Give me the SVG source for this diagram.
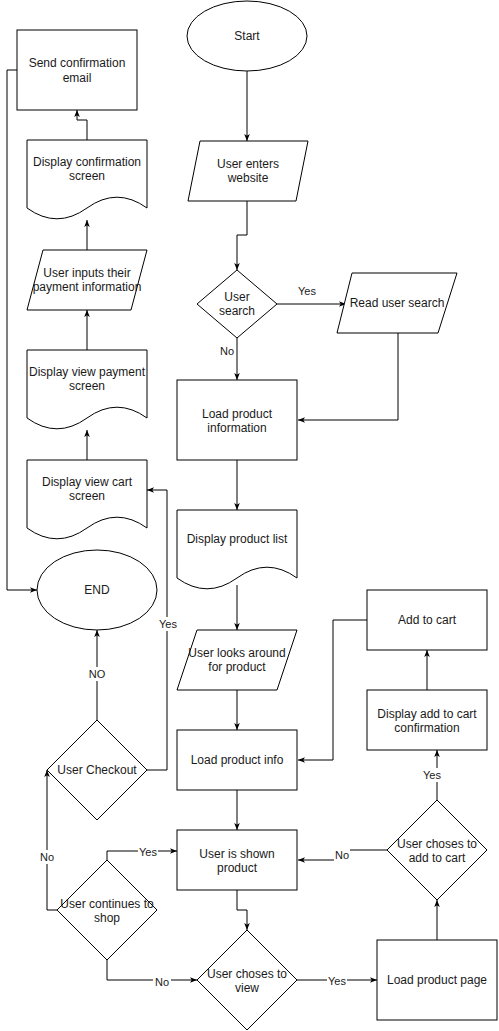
<svg xmlns="http://www.w3.org/2000/svg" width="499" height="1031" viewBox="0 0 499 1031">
<style>
.s{fill:#fff;stroke:#000;stroke-width:1}
.t{font-family:"Liberation Sans",Arial,sans-serif;font-size:12px;fill:#1a1a1a;text-anchor:middle;dominant-baseline:central}
.e{fill:none;stroke:#000;stroke-width:1}
.l{font-family:"Liberation Sans",Arial,sans-serif;font-size:11px;fill:#1a1a1a;text-anchor:middle;dominant-baseline:central}
.bg{fill:#fff}
</style>
<defs>
<marker id="a" viewBox="0 0 10 10" refX="10" refY="5" markerWidth="7" markerHeight="7" markerUnits="userSpaceOnUse" orient="auto">
<path d="M0,1 L10,5 L0,9 L2.5,5 Z" fill="#000"/>
</marker>
</defs>
<rect width="499" height="1031" fill="#fff"/>

<g id="connectors">
<path class="e" d="M247,71 V141" marker-end="url(#a)"/>
<path class="e" d="M247,201 V235 H237 V270" marker-end="url(#a)"/>
<path class="e" d="M277,304 H346" marker-end="url(#a)"/>
<path class="e" d="M237,338 V380" marker-end="url(#a)"/>
<path class="e" d="M398,333 V420 H298" marker-end="url(#a)"/>
<path class="e" d="M237,460 V510" marker-end="url(#a)"/>
<path class="e" d="M237,585 V630" marker-end="url(#a)" stroke="#555"/>
<path class="e" d="M237,690 V730" marker-end="url(#a)"/>
<path class="e" d="M237,790 V830" marker-end="url(#a)"/>
<path class="e" d="M237,890 V910 H247 V930" marker-end="url(#a)"/>
<path class="e" d="M297,980 H377" marker-end="url(#a)"/>
<path class="e" d="M437,940 V900" marker-end="url(#a)"/>
<path class="e" d="M387,850 H342 V860 H298" marker-end="url(#a)"/>
<path class="e" d="M437,800 V750" marker-end="url(#a)"/>
<path class="e" d="M427,690 V650" marker-end="url(#a)"/>
<path class="e" d="M367,620 H333 V760 H298" marker-end="url(#a)"/>
<path class="e" d="M107,960 V980 H197" marker-end="url(#a)"/>
<path class="e" d="M107,860 V851 H177" marker-end="url(#a)"/>
<path class="e" d="M57,910 H47 V770" marker-end="url(#a)"/>
<path class="e" d="M97,720 V630" marker-end="url(#a)"/>
<path class="e" d="M147,770 H167 V490 H147" marker-end="url(#a)"/>
<path class="e" d="M87,460 V430" marker-end="url(#a)"/>
<path class="e" d="M87,350 V310" marker-end="url(#a)"/>
<path class="e" d="M87,250 V220" marker-end="url(#a)"/>
<path class="e" d="M87,140 V120 H77 V110" marker-end="url(#a)"/>
<path class="e" d="M17,70 H7 V590 H37" marker-end="url(#a)"/>

<text class="l" x="307" y="291">Yes</text>
<text class="l" x="227" y="351">No</text>
<rect class="bg" x="87" y="667" width="20" height="14"/><text class="l" x="97" y="674">NO</text>
<rect class="bg" x="158" y="617" width="20" height="14"/><text class="l" x="168" y="624">Yes</text>
<rect class="bg" x="38" y="850" width="18" height="14"/><text class="l" x="47" y="857">No</text>
<rect class="bg" x="138" y="845" width="20" height="13"/><text class="l" x="148" y="852">Yes</text>
<rect class="bg" x="153" y="975" width="18" height="13"/><text class="l" x="162" y="982">No</text>
<rect class="bg" x="327" y="974" width="20" height="13"/><text class="l" x="337" y="981">Yes</text>
<rect class="bg" x="334" y="848" width="16" height="14"/><text class="l" x="342" y="855">No</text>
<rect class="bg" x="422" y="768" width="20" height="14"/><text class="l" x="432" y="775">Yes</text>
</g>

<g id="start"><ellipse class="s" cx="247" cy="36" rx="60" ry="35"/><text class="t" x="247" y="36">Start</text></g>
<g id="enters"><path class="s" d="M200,141 H308 L296,201 H188 Z"/><text class="t" x="248" y="164">User enters</text><text class="t" x="248" y="178">website</text></g>
<g id="search"><path class="s" d="M237,270 L277,304 L237,338 L197,304 Z"/><text class="t" x="237" y="297">User</text><text class="t" x="237" y="311">search</text></g>
<g id="readsearch"><path class="s" d="M352,273 H457 L438,333 H337 Z"/><text class="t" x="397" y="303">Read user search</text></g>
<g id="loadinfo"><rect class="s" x="177" y="380" width="120" height="80"/><text class="t" x="237" y="414">Load product</text><text class="t" x="237" y="428">information</text></g>
<g id="productlist"><path class="s" d="M177,510 H297 V578 Q267,556.4 237,578 Q207,599.6 177,578 Z"/><text class="t" x="237" y="539">Display product list</text></g>
<g id="looks"><path class="s" d="M197,630 H297 L277,690 H177 Z"/><text class="t" x="237" y="653">User looks around</text><text class="t" x="237" y="667">for product</text></g>
<g id="loadproductinfo"><rect class="s" x="177" y="730" width="120" height="60"/><text class="t" x="237" y="760">Load product info</text></g>
<g id="shown"><rect class="s" x="177" y="830" width="120" height="60"/><text class="t" x="237" y="854">User is shown</text><text class="t" x="237" y="868">product</text></g>
<g id="view"><path class="s" d="M247,930 L297,980 L247,1030 L197,980 Z"/><text class="t" x="247" y="974">User choses to</text><text class="t" x="247" y="988">view</text></g>
<g id="productpage"><rect class="s" x="377" y="940" width="120" height="80"/><text class="t" x="437" y="980">Load product page</text></g>
<g id="addcartq"><path class="s" d="M437,800 L487,850 L437,900 L387,850 Z"/><text class="t" x="437" y="844">User choses to</text><text class="t" x="437" y="858">add to cart</text></g>
<g id="confirmadd"><rect class="s" x="367" y="690" width="120" height="60"/><text class="t" x="427" y="714">Display add to cart</text><text class="t" x="427" y="728">confirmation</text></g>
<g id="addcart"><rect class="s" x="367" y="590" width="120" height="60"/><text class="t" x="427" y="620">Add to cart</text></g>
<g id="continue"><path class="s" d="M107,860 L157,910 L107,960 L57,910 Z"/><text class="t" x="107" y="904">User continues to</text><text class="t" x="107" y="918">shop</text></g>
<g id="checkout"><path class="s" d="M97,720 L147,770 L97,820 L47,770 Z"/><text class="t" x="97" y="770">User Checkout</text></g>
<g id="end"><ellipse class="s" cx="97" cy="590" rx="60" ry="40"/><text class="t" x="97" y="590">END</text></g>
<g id="viewcart"><path class="s" d="M27,460 H147 V528 Q117,506.4 87,528 Q57,549.6 27,528 Z"/><text class="t" x="87" y="482">Display view cart</text><text class="t" x="87" y="496">screen</text></g>
<g id="viewpayment"><path class="s" d="M27,350 H147 V418 Q117,396.4 87,418 Q57,439.6 27,418 Z"/><text class="t" x="87" y="372">Display view payment</text><text class="t" x="87" y="386">screen</text></g>
<g id="inputs"><path class="s" d="M43,250 H147 L131,310 H27 Z"/><text class="t" x="87" y="273">User inputs their</text><text class="t" x="87" y="287">payment information</text></g>
<g id="confirmscreen"><path class="s" d="M27,140 H147 V208 Q117,186.4 87,208 Q57,229.6 27,208 Z"/><text class="t" x="87" y="162">Display confirmation</text><text class="t" x="87" y="176">screen</text></g>
<g id="email"><rect class="s" x="17" y="30" width="120" height="80"/><text class="t" x="77" y="63">Send confirmation</text><text class="t" x="77" y="78">email</text></g>
</svg>
